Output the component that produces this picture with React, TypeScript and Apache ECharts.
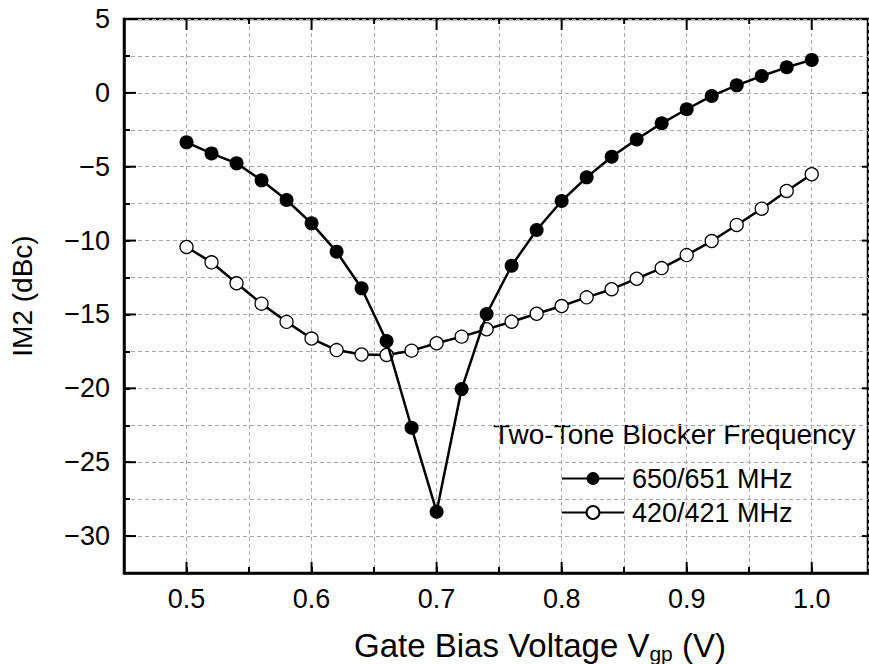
import React, { useEffect, useRef } from "react";
import * as echarts from "echarts";

const vgp = [0.5, 0.52, 0.54, 0.56, 0.58, 0.6, 0.62, 0.64, 0.66, 0.68, 0.7, 0.72, 0.74, 0.76, 0.78, 0.8, 0.82, 0.84, 0.86, 0.88, 0.9, 0.92, 0.94, 0.96, 0.98, 1.0];
const im2_650 = [-3.35, -4.1, -4.77, -5.92, -7.25, -8.83, -10.75, -13.23, -16.8, -22.67, -28.35, -20.05, -14.97, -11.7, -9.28, -7.32, -5.72, -4.32, -3.15, -2.06, -1.11, -0.21, 0.51, 1.14, 1.73, 2.23];
const im2_420 = [-10.43, -11.47, -12.89, -14.27, -15.5, -16.63, -17.41, -17.71, -17.74, -17.45, -16.95, -16.5, -16.0, -15.49, -14.95, -14.43, -13.84, -13.29, -12.58, -11.86, -10.98, -10.03, -8.94, -7.84, -6.64, -5.51];
const xMajor = [0.5, 0.6, 0.7, 0.8, 0.9, 1.0];
const xMinor = [0.55, 0.65, 0.75, 0.85, 0.95];
const yMajor = [-30, -25, -20, -15, -10, -5, 0, 5];
const seriesNames = ["650/651 MHz", "420/421 MHz"];
const legendTitle = "Two-Tone Blocker Frequency";
const xTitle = "Gate Bias Voltage V";
const xTitleSub = "gp";
const yTitle = "IM2 (dBc)";

const FONT = "Liberation Sans, Arial, Helvetica, sans-serif";
const FS = 27;
const X_MIN = 0.45, X_MAX = 1.045, Y_MIN = -32.5, Y_MAX = 5;

export default function App() {
  const ref = useRef<HTMLDivElement>(null);
  useEffect(() => {
    if (!ref.current) return;
    const chart = echarts.init(ref.current, undefined, { renderer: "svg" });
    const tickStyle = { color: "#000", width: 2 };
    const fmtX = (v: number) => (Math.abs(Math.round(v * 100) % 10) === 0 ? v.toFixed(1) : "");
    const fmtY = (v: number) => {
      const r = Math.round(v * 10);
      if (r % 50 !== 0) return "";
      return v < 0 ? "\u2212" + Math.abs(v) : String(v);
    };
    // extra frame ticks: [edge, value, length]  edge 0=bottom, 1=top, 2=left, 3=right
    const extraTicks: number[][] = [];
    xMajor.forEach((v) => { extraTicks.push([0, v, 11]); extraTicks.push([1, v, 11]); });
    xMinor.forEach((v) => { extraTicks.push([1, v, 5]); });
    yMajor.forEach((v) => { extraTicks.push([2, v, 12]); extraTicks.push([3, v, 6]); });

    chart.setOption({
      animation: false,
      backgroundColor: "#fff",
      textStyle: { fontFamily: FONT },
      grid: { left: 124, right: 1, top: 19, bottom: 91, containLabel: false, show: true, borderColor: "#000", borderWidth: 2.5, backgroundColor: "transparent" },
      xAxis: {
        type: "value", position: "bottom", min: X_MIN, max: X_MAX, interval: 0.05,
        axisLine: { show: true, onZero: false, lineStyle: { color: "#000", width: 2.5 } },
        splitLine: { show: true, lineStyle: { color: "#a8a8a8", width: 1, type: [4, 3] } },
        axisTick: { show: true, inside: true, length: 6, lineStyle: tickStyle },
        axisLabel: { show: true, formatter: fmtX, fontSize: FS, color: "#000", margin: 12, fontFamily: FONT, showMaxLabel: false },
      },
      yAxis: {
        type: "value", position: "left", min: Y_MIN, max: Y_MAX, interval: 2.5,
        axisLine: { show: true, onZero: false, lineStyle: { color: "#000", width: 2.5 } },
        splitLine: { show: true, lineStyle: { color: "#a8a8a8", width: 1, type: [4, 3] } },
        axisTick: { show: true, inside: true, length: 6, lineStyle: tickStyle },
        axisLabel: { show: true, formatter: fmtY, fontSize: FS, color: "#000", margin: 14, fontFamily: FONT },
      },
      legend: {
        data: seriesNames,
        orient: "vertical",
        left: 561,
        top: 465,
        itemWidth: 62,
        itemHeight: 16,
        itemGap: 7,
        padding: 0,
        textStyle: { fontSize: FS, color: "#000", fontFamily: FONT, lineHeight: 27, padding: [0, 0, 0, 3] },
      },
      graphic: [
        {
          type: "text", left: 493, top: 420,
          style: { text: legendTitle, font: `28px ${FONT}`, fill: "#000" },
        },
        {
          type: "text", x: 22, y: 296, rotation: Math.PI / 2,
          style: { text: yTitle, font: `28px ${FONT}`, fill: "#000", align: "center", verticalAlign: "middle" },
        },
        {
          type: "text", x: 540, y: 645,
          style: {
            text: `{a|${xTitle}}{b|${xTitleSub}}{a| (V)}`,
            align: "center", verticalAlign: "middle",
            rich: {
              a: { fontSize: 33, fontFamily: FONT, fill: "#000", color: "#000" },
              b: { fontSize: 21, fontFamily: FONT, fill: "#000", color: "#000", padding: [16, 0, 0, 0] },
            },
          },
        },
      ],
      series: [
        {
          type: "custom",
          silent: true,
          clip: false,
          z: 5,
          data: extraTicks,
          encode: { x: 1, y: 1 },
          renderItem: (params: any, api: any) => {
            const edge = api.value(0);
            const v = api.value(1);
            const len = api.value(2);
            let x1 = 0, y1 = 0, x2 = 0, y2 = 0;
            if (edge === 0) { const p = api.coord([v, Y_MIN]); x1 = x2 = p[0]; y1 = p[1]; y2 = p[1] - len; }
            else if (edge === 1) { const p = api.coord([v, Y_MAX]); x1 = x2 = p[0]; y1 = p[1]; y2 = p[1] + len; }
            else if (edge === 2) { const p = api.coord([X_MIN, v]); y1 = y2 = p[1]; x1 = p[0]; x2 = p[0] + len; }
            else { const p = api.coord([X_MAX, v]); y1 = y2 = p[1]; x1 = p[0]; x2 = p[0] - len; }
            return { type: "line", shape: { x1, y1, x2, y2 }, style: { stroke: "#000", lineWidth: 2 } };
          },
        },
        {
          name: seriesNames[1], type: "line",
          data: vgp.map((x, i) => [x, im2_420[i]]),
          symbol: "circle", symbolSize: 13,
          lineStyle: { color: "#000", width: 2.5 },
          itemStyle: { color: "#fff", borderColor: "#000", borderWidth: 1.3 },
          z: 3,
        },
        {
          name: seriesNames[0], type: "line",
          data: vgp.map((x, i) => [x, im2_650[i]]),
          symbol: "circle", symbolSize: 14,
          lineStyle: { color: "#000", width: 2.5 },
          itemStyle: { color: "#000", borderColor: "#000", borderWidth: 0 },
          z: 4,
        },
      ],
    });
    return () => chart.dispose();
  }, []);
  return <div ref={ref} style={{ position: "fixed", left: 0, top: 0, width: 869, height: 664, background: "#fff" }} />;
}
